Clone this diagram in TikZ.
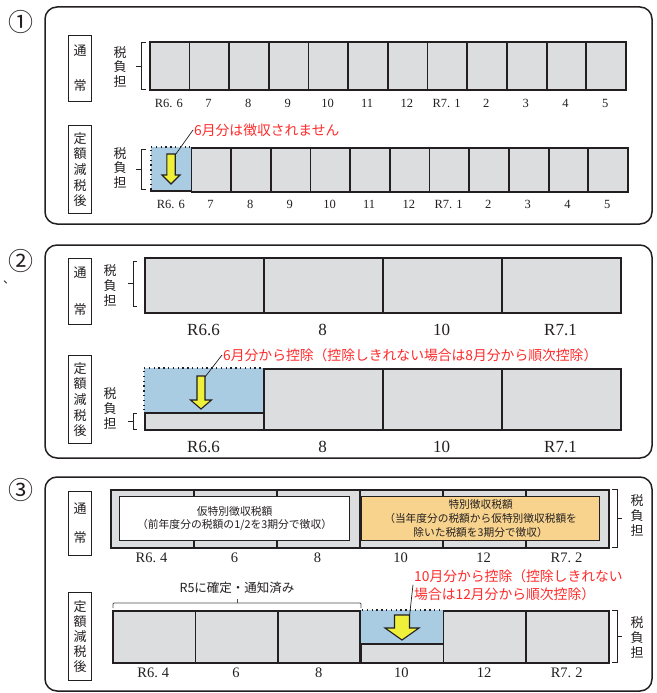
\documentclass[tikz,border=0pt]{standalone}
\usepackage{fontspec}
\setmainfont{Liberation Serif}
\newfontfamily\jp{Noto Sans CJK JP}
\usetikzlibrary{calc}
\definecolor{cellgray}{HTML}{DCDDDF}
\definecolor{lblue}{HTML}{A9CCE3}
\definecolor{arrowy}{HTML}{EEF03A}
\definecolor{orangef}{HTML}{F7D38D}
\definecolor{redt}{HTML}{FF2A2A}
\definecolor{lineblk}{HTML}{231F20}
\newcommand{\yarrowpath}[7]{% name, cx, top, shaft half, head half, head top, tip
  \filldraw[yarrow] (#2-#4,#3) -- (#2+#4,#3) -- (#2+#4,#6) -- (#2+#5,#6) -- (#2,#7) -- (#2-#5,#6) -- (#2-#4,#6) -- cycle;
  \coordinate (#1) at (#2+#4,#3+1);}
\begin{document}
\begin{tikzpicture}[x=1pt,y=-1pt,
  panel/.style={draw=lineblk, line width=1.5pt, rounded corners=12pt},
  cell/.style={draw=lineblk, line width=1.8pt, fill=cellgray, inner sep=0pt, anchor=north west},
  lbox/.style={draw=lineblk, line width=1.2pt, fill=white, inner sep=0pt, anchor=north west, minimum width=23pt, text=lineblk, align=center},
  vtxt/.style={font=\jp\fontsize{13}{15}\selectfont, text=lineblk, align=center, inner sep=0pt},
  mlab/.style={text=lineblk, inner sep=0pt},
  note/.style={font=\jp\fontsize{13.8}{18}\selectfont, text=redt, inner sep=1pt},
  leader/.style={draw=lineblk, line width=0.7pt},
  brk/.style={draw=lineblk, line width=0.9pt},
  yarrow/.style={fill=arrowy, draw=lineblk, line width=1.1pt, line join=miter},
  circnum/.style={font=\jp\fontsize{25}{25}\selectfont, text=lineblk, inner sep=0pt},
  dotline/.style={draw=lineblk, line width=1.3pt, dash pattern=on 1.3pt off 3.5pt}
]
\useasboundingbox (0,0) rectangle (656,693);

% ================= Panel 1 =================
\node[circnum] (c1) at (21,22) {①};
\draw[panel] (45,7) rectangle (652,224);
\node[lbox, minimum height=66pt] (p1n) at (68,35) {};
\node[vtxt] (p1nt) at (p1n.center) {通\\[20pt]常};
\node[lbox, minimum height=88pt] (p1g) at (68,125) {};
\node[vtxt, font=\jp\fontsize{13}{15.7}\selectfont] (p1gt) at (p1g.center) {定\\額\\減\\税\\後};
\node[vtxt, font=\jp\fontsize{13}{14.5}\selectfont] (p1t1) at (120,67) {税\\負\\担};
\node[vtxt, font=\jp\fontsize{13}{14.5}\selectfont] (p1t2) at (120,168) {税\\負\\担};
\draw[brk] (146,42) -- (141,42) -- (141,89) -- (146,89);
\draw[brk] (141,66) -- (136,66);
\draw[brk] (146,149) -- (141,149) -- (141,189) -- (146,189);
\draw[brk] (141,169) -- (136,169);
\foreach \t [count=\i] in {R6.\hspace{4pt}6,7,8,9,10,11,12,R7.\hspace{4pt}1,2,3,4,5} {
  \node[cell, minimum width=39.67pt, minimum height=48pt] (p1a\i) at ({149+(\i-1)*39.67},41) {};
  \node[mlab, font=\fontsize{12.5}{14}\selectfont] (p1al\i) at ({149+(\i-0.5)*39.67},103) {\t};
  \node[mlab, font=\fontsize{12.5}{14}\selectfont] (p1bl\i) at ({151+(\i-0.5)*39.67},204) {\t};
}
\foreach \i in {2,...,12} {
  \node[cell, minimum width=39.67pt, minimum height=44pt] (p1b\i) at ({151+(\i-1)*39.67},147) {};
}
\fill[lblue] (151,147) rectangle (190.67,191);
\node[inner sep=0pt, minimum width=39.67pt, minimum height=44pt, anchor=north west] (p1b1) at (151,147) {};
\draw[dotline] (151,147) -- (190,147);
\draw[dotline] (151,150) -- (151,191);
\draw[lineblk, line width=1.8pt] (150.3,191) -- (190.67,191);
\yarrowpath{a1}{171}{154}{4.2}{9}{175}{184}
\node[note, anchor=west] (n1) at (193,130) {6月分は徴収されません};
\draw[leader] (a1) -- (n1.west);

% ================= Panel 2 =================
\node[circnum] (c2) at (21,261) {②};
\node[font=\jp\fontsize{12}{12}\selectfont, text=lineblk, inner sep=0pt] (mark) at (9,282) {、};
\draw[panel] (45,245) rectangle (652,458);
\node[lbox, minimum height=66pt] (p2n) at (68,258) {};
\node[vtxt] (p2nt) at (p2n.center) {通\\[22pt]常};
\node[lbox, minimum height=88pt] (p2g) at (68,355) {};
\node[vtxt, font=\jp\fontsize{13}{15.7}\selectfont] (p2gt) at (p2g.center) {定\\額\\減\\税\\後};
\node[vtxt] (p2t1) at (110,285) {税\\負\\担};
\node[vtxt] (p2t2) at (110,408) {税\\負\\担};
\draw[brk] (137,261) -- (133,261) -- (133,306) -- (137,306);
\draw[brk] (133,283) -- (128,283);
\draw[brk] (137,413) -- (133,413) -- (133,429) -- (137,429);
\draw[brk] (133,421) -- (128,421);
\foreach \t [count=\i] in {R6.6,8,10,R7.1} {
  \node[cell, minimum width=119pt, minimum height=55pt] (p2a\i) at ({144+(\i-1)*119},257) {};
  \node[mlab, font=\fontsize{17}{18}\selectfont] (p2al\i) at ({144+(\i-0.5)*119},330) {\t};
  \node[mlab, font=\fontsize{17}{18}\selectfont] (p2bl\i) at ({144+(\i-0.5)*119},447) {\t};
}
\foreach \i in {2,3,4} {
  \node[cell, minimum width=119pt, minimum height=61pt] (p2b\i) at ({144+(\i-1)*119},368) {};
}
\fill[lblue] (144,368) rectangle (263,412);
\node[cell, minimum width=119pt, minimum height=17pt] (p2b1) at (144,412) {};
\draw[dotline] (144,368) -- (262,368);
\draw[dotline] (144,371) -- (144,410);
\yarrowpath{a2}{201}{376}{4}{10.5}{400}{409}
\node[note, anchor=west] (n2) at (222,355) {6月分から控除（控除しきれない場合は8月分から順次控除）};
\draw[leader] (a2) -- (n2.west);

% ================= Panel 3 =================
\node[circnum] (c3) at (21,490) {③};
\draw[panel] (45,477) rectangle (652,691);
\node[lbox, minimum height=64pt] (p3n) at (68,491) {};
\node[vtxt] (p3nt) at (p3n.center) {通\\[14pt]常};
\node[lbox, minimum height=88pt] (p3g) at (68,592) {};
\node[vtxt] (p3gt) at (p3g.center) {定\\額\\減\\税\\後};
\node[vtxt] (p3t1) at (637,515) {税\\負\\担};
\node[vtxt] (p3t2) at (637,637) {税\\負\\担};
\draw[brk] (612,489) -- (617,489) -- (617,547) -- (612,547);
\draw[brk] (617,518) -- (622,518);
\draw[brk] (612,610) -- (617,610) -- (617,662) -- (612,662);
\draw[brk] (617,636) -- (622,636);
\foreach \t [count=\i] in {R6.\hspace{4pt}4,6,8,10,12,R7.\hspace{4pt}2} {
  \node[cell, minimum width=83pt, minimum height=58pt] (p3a\i) at ({110+(\i-1)*83},489) {};
  \node[mlab, font=\fontsize{14.5}{16}\selectfont] (p3al\i) at ({110+(\i-0.5)*83},558) {\t};
  \node[mlab, font=\fontsize{14.5}{16}\selectfont] (p3bl\i) at ({112+(\i-0.5)*82.67},673) {\t};
}
\node[draw=lineblk, line width=1.2pt, fill=white, anchor=north west, minimum width=230pt, minimum height=44pt, inner sep=0pt,
  font=\jp\fontsize{10.8}{13}\selectfont, text=lineblk, align=center] (kari) at (119,496) {仮特別徴収税額\\（前年度分の税額の1/2を3期分で徴収）};
\node[draw=lineblk, line width=1.2pt, fill=orangef, anchor=north west, minimum width=238pt, minimum height=44pt, inner sep=0pt,
  font=\jp\fontsize{10.7}{13.8}\selectfont, text=lineblk, align=center] (toku) at (361,496) {特別徴収税額\\（当年度分の税額から仮特別徴収税額を\\除いた税額を3期分で徴収）};
\foreach \i in {1,2,3,5,6} {
  \node[cell, minimum width=82.67pt, minimum height=52pt] (p3b\i) at ({112+(\i-1)*82.67},610) {};
}
\fill[lblue] (360,610) rectangle (443,643);
\node[cell, minimum width=82.67pt, minimum height=19pt] (p3b4) at (360,643) {};
\draw[lineblk, line width=1.8pt] (360,610) -- (360,662);
\draw[dotline] (362,610) -- (441,610);
\yarrowpath{a3}{402}{615}{7.5}{17}{628}{640}
\node[note, anchor=north west, align=left] (n3) at (413,568) {10月分から控除（控除しきれない\\場合は12月分から順次控除）};
\draw[leader] (a3) -- (n3.west);
\node[font=\jp\fontsize{12.5}{14}\selectfont, text=lineblk, inner sep=0pt] (r5) at (237,588) {R5に確定・通知済み};
\draw[brk, draw=lineblk!80, rounded corners=1pt] (113,608) -- (113,603) -- (361,603) -- (361,608);
\draw[brk, draw=lineblk!80] (237,603) -- (237,599);
\end{tikzpicture}
\end{document}
